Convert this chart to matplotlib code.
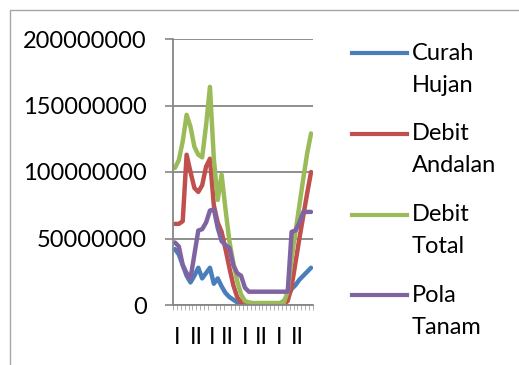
import numpy as np
import matplotlib
matplotlib.use("Agg")
import matplotlib.pyplot as plt
from matplotlib.lines import Line2D
from matplotlib.patches import Rectangle
from matplotlib.ticker import FuncFormatter, MultipleLocator, FixedLocator

plt.rcParams['font.family'] = ['Lato', 'DejaVu Sans']

# values in millions, one point per dekad (36 periods)
curah_hujan = [42, 38, 30, 22, 17, 22, 28, 20, 24, 28, 16, 20, 14, 9, 6, 4, 2, 1,
               1, 0.5, 0.5, 0.5, 0.5, 0.5, 0.5, 0.5, 0.5, 1, 3, 6, 12, 15, 19, 22, 25, 28]
debit_andalan = [61, 61, 63, 113, 100, 88, 85, 90, 104, 110, 75, 62, 55, 42, 28, 15, 6, 2,
                 1, 0.5, 0.5, 0.5, 0.5, 0.5, 0.5, 0.5, 0.5, 0.5, 0.5, 3, 14, 32, 50, 67, 84, 100]
debit_total = [103, 109, 123, 143, 134, 119, 113, 111, 135, 164, 110, 79, 98, 72, 48, 32, 18, 8,
               3, 2, 1.5, 1.5, 1.5, 1.5, 1.5, 1.5, 1.5, 1.5, 2, 10, 35, 55, 75, 95, 114, 129]
pola_tanam = [47, 44, 30, 24, 20, 38, 56, 57, 62, 71, 72, 58, 48, 45, 43, 30, 24, 22,
              13, 10, 10, 10, 10, 10, 10, 10, 10, 10, 10, 10, 55, 56, 62, 70, 70, 70]

series = [curah_hujan, debit_andalan, debit_total, pola_tanam]
labels = ["Curah Hujan", "Debit Andalan", "Debit Total", "Pola Tanam"]
colors = ["#4a7ebb", "#c0504d", "#9bbb59", "#8064a2"]

xlabels = ["I", "II", "I", "II", "I", "II", "I", "II"]
xlabel_pos = [0.6, 5.4, 9.5, 13.5, 18, 22.1, 26.8, 31.4]

fig = plt.figure(figsize=(5.19, 3.65), dpi=100)
ax = fig.add_axes([173/519, 1-305/365, 140/519, 266/365])

x = np.arange(len(curah_hujan))
for vals, c in zip(series, colors):
    ax.plot(x, np.array(vals)*1e6, color=c, lw=3.2, solid_joinstyle='round', solid_capstyle='round')

ax.set_xlim(-0.5, len(x)-0.5)
ax.set_ylim(0, 2e8)
ax.yaxis.set_major_locator(MultipleLocator(5e7))
ax.yaxis.set_major_formatter(FuncFormatter(lambda v, p: "%d" % int(round(v))))
ax.grid(axis='y', color='#868686', lw=1.3)
ax.set_axisbelow(True)
for s in ['top', 'right']:
    ax.spines[s].set_visible(False)
for s in ['left', 'bottom']:
    ax.spines[s].set_color('#868686')
    ax.spines[s].set_linewidth(1.3)

ax.tick_params(axis='y', direction='out', length=6, width=1.2, color='#868686', labelsize=17, pad=13)
ax.xaxis.set_major_locator(FixedLocator(xlabel_pos))
ax.set_xticklabels(xlabels)
ax.xaxis.set_minor_locator(FixedLocator(np.arange(len(x)+1) - 0.5))
ax.tick_params(axis='x', which='major', length=0, labelsize=17, pad=16)
ax.tick_params(axis='x', which='minor', direction='out', length=3.5, width=0.7, color='#b0b0b0')

# legend, drawn by hand so the key line sits on the first text line
for k, (lab, c) in enumerate(zip(labels, colors)):
    y0 = 53 + k*80.8
    fig.add_artist(Line2D([352/519, 407/519], [1-y0/365, 1-y0/365], color=c, lw=3.0,
                          transform=fig.transFigure))
    for j, word in enumerate(lab.split(" ")):
        fig.text(412/519, 1-(y0 + j*32)/365, word, fontsize=17, va='center', ha='left')

fig.add_artist(Rectangle((10/519, -0.1), 1.2, 1.1 - 9.5/365, transform=fig.transFigure,
                         fill=False, edgecolor='#a6a6a6', lw=1))

fig.savefig("out.png", dpi=100)
